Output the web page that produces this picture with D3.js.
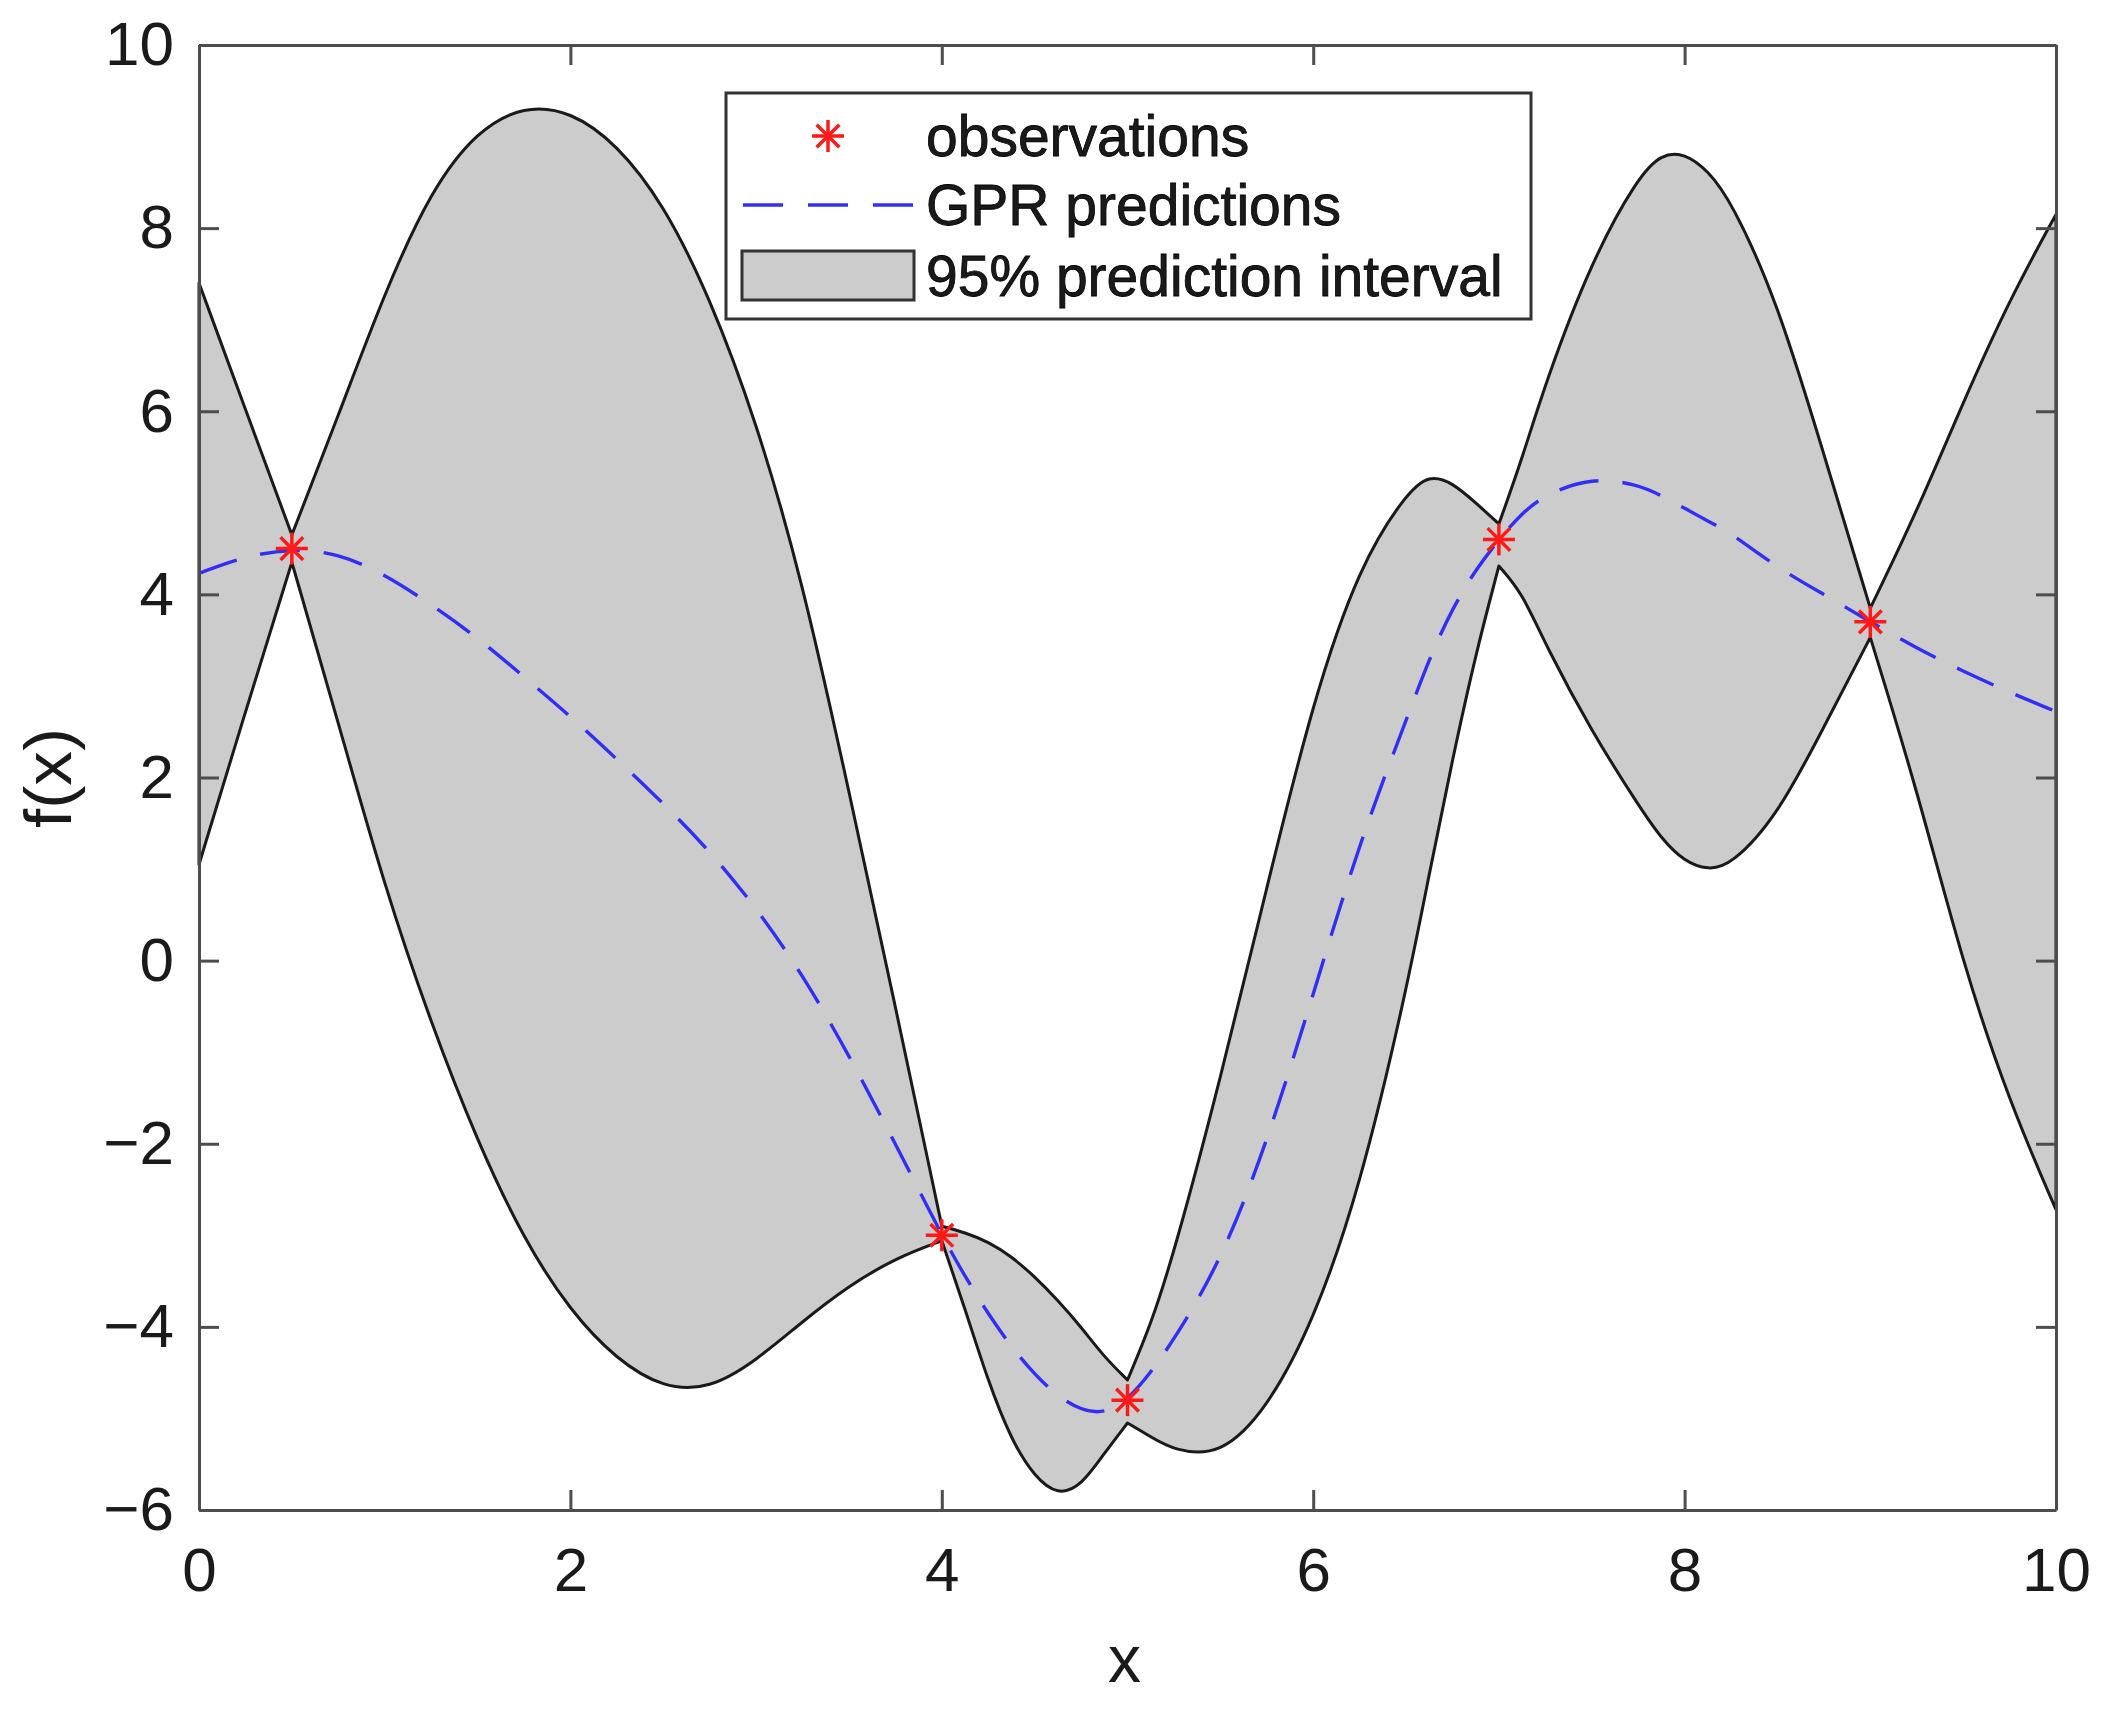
<!DOCTYPE html>
<html>
<head>
<meta charset="utf-8">
<script src="https://d3js.org/d3.v7.min.js"></script>
<style>
  body { margin: 0; background: #fff; }
  svg { display: block; }
  text { font-family: "Liberation Sans", Arial, sans-serif; fill: #1a1a1a; }
</style>
</head>
<body>
<svg id="chart"></svg>
<script>
// observations
var obsX = [0.5, 4, 5, 7, 9];
var obsY = [4.5, -3.0, -4.8, 4.6, 3.7];

// grid where the GPR curves were read
var gridX = [0, 0.25, 0.5, 0.75, 1.0, 1.25, 1.5, 1.75, 2.0, 2.25, 2.5, 2.75, 3.0, 3.25, 3.5, 3.75,
  4.0, 4.125, 4.25, 4.375, 4.5, 4.625, 4.75, 4.875, 5.0, 5.125, 5.25, 5.5, 5.75, 6.0, 6.25, 6.5,
  6.625, 6.75, 6.875, 7.0, 7.125, 7.25, 7.5, 7.75, 7.875, 8.0, 8.125, 8.25, 8.5, 8.75, 9.0, 9.25, 9.5, 9.75, 10.0];

var upperY = [7.40, 6.02, 4.65, 5.95, 7.30, 8.42, 9.07, 9.34, 9.28, 8.92, 8.27, 7.25, 5.90, 4.15, 1.85, -0.50,
  -2.90, -2.97, -3.07, -3.23, -3.45, -3.71, -4.00, -4.33, -4.58, -3.98, -3.20, -1.30, 0.80, 2.85, 4.32, 5.10,
  5.31, 5.22, 5.00, 4.77, 5.48, 6.31, 7.65, 8.56, 8.81, 8.82, 8.63, 8.30, 7.20, 5.53, 3.85, 4.90, 6.10, 7.22, 8.15];

var lowerY = [1.05, 2.72, 4.35, 2.60, 0.80, -0.69, -1.98, -3.05, -3.83, -4.36, -4.67, -4.68, -4.37, -3.94, -3.55, -3.25,
  -3.06, -3.80, -4.60, -5.24, -5.64, -5.84, -5.74, -5.38, -5.05, -5.20, -5.35, -5.41, -4.90, -3.95, -2.50, -0.35,
  0.95, 2.20, 3.35, 4.31, 4.02, 3.45, 2.50, 1.70, 1.33, 1.08, 0.99, 1.04, 1.58, 2.55, 3.53, 1.88, -0.05, -1.55, -2.72];

var meanY = [4.23, 4.42, 4.50, 4.45, 4.22, 3.89, 3.53, 3.10, 2.67, 2.20, 1.72, 1.20, 0.58, -0.15, -1.03, -2.00,
  -3.00, -3.45, -3.86, -4.22, -4.52, -4.76, -4.91, -4.95, -4.80, -4.50, -4.14, -3.30, -2.00, -0.37, 1.30, 2.62,
  3.30, 3.85, 4.27, 4.60, 4.89, 5.09, 5.28, 5.20, 5.08, 4.94, 4.80, 4.67, 4.29, 4.00, 3.70, 3.41, 3.16, 2.93, 2.72];

var xTicks = [0, 2, 4, 6, 8, 10];
var yTicks = [-6, -4, -2, 0, 2, 4, 6, 8, 10];
var legendLabels = ["observations", "GPR predictions", "95% prediction interval"];

var W = 2106, H = 1709;
var margin = { left: 199, top: 45, right: 50, bottom: 199 };
var width = W - margin.left - margin.right;
var height = H - margin.top - margin.bottom;

var svg = d3.select("#chart").attr("width", W).attr("height", H);
var g = svg.append("g").attr("transform", "translate(" + margin.left + "," + margin.top + ")");

var x = d3.scaleLinear().domain([0, 10]).range([0, width]);
var y = d3.scaleLinear().domain([-6, 10]).range([height, 0]);

var curveLine = d3.line()
  .x(function (d) { return x(d[0]); })
  .y(function (d) { return y(d[1]); })
  .curve(d3.curveBasis);

// split the band at the observations so the cusps stay sharp
var breaks = [0].concat(obsX).concat([10]);
function pieces(values) {
  var out = [];
  for (var i = 0; i < breaks.length - 1; i++) {
    var a = breaks[i], b = breaks[i + 1];
    var pts = [];
    gridX.forEach(function (gx, j) {
      if (gx >= a && gx <= b) pts.push([gx, values[j]]);
    });
    out.push(pts);
  }
  return out;
}

var bandPath = "";
pieces(upperY).forEach(function (pts) {
  var s = curveLine(pts);
  bandPath += bandPath ? s.replace(/^M/, "L") : s;
});
pieces(lowerY).reverse().forEach(function (pts) {
  bandPath += curveLine(pts.slice().reverse()).replace(/^M/, "L");
});
bandPath += "Z";

g.append("path")
  .attr("d", bandPath)
  .attr("fill", "#cccccc")
  .attr("stroke", "#1a1a1a")
  .attr("stroke-width", 3)
  .attr("stroke-linejoin", "round");

// mean prediction
g.append("path")
  .datum(gridX.map(function (gx, i) { return [gx, meanY[i]]; }))
  .attr("d", curveLine)
  .attr("fill", "none")
  .attr("stroke", "#3030f5")
  .attr("stroke-width", 3.4)
  .attr("stroke-dasharray", "40,24");

// asterisk marker
function star(sel, r) {
  [0, 45, 90, 135].forEach(function (a) {
    var rad = a * Math.PI / 180;
    sel.append("line")
      .attr("x1", -r * Math.cos(rad)).attr("y1", -r * Math.sin(rad))
      .attr("x2", r * Math.cos(rad)).attr("y2", r * Math.sin(rad))
      .attr("stroke", "#ff1a1a")
      .attr("stroke-width", 3.5);
  });
}

g.selectAll(".obs")
  .data(obsX.map(function (ox, i) { return [ox, obsY[i]]; }))
  .enter()
  .append("g")
  .attr("class", "obs")
  .attr("transform", function (d) { return "translate(" + x(d[0]) + "," + y(d[1]) + ")"; })
  .each(function () { star(d3.select(this), 16); });

// axes box with inward ticks on all four sides
var axisColor = "#4d4d4d";
function styleAxis(sel) {
  sel.select(".domain").attr("stroke", axisColor).attr("stroke-width", 3);
  sel.selectAll(".tick line").attr("stroke", axisColor).attr("stroke-width", 3);
  sel.selectAll("text").attr("font-size", 62).attr("fill", "#1a1a1a")
    .attr("font-family", "Liberation Sans, Arial, sans-serif");
}

g.append("g")
  .attr("transform", "translate(0," + height + ")")
  .call(d3.axisBottom(x).tickValues(xTicks).tickSizeInner(-20).tickSizeOuter(0).tickPadding(37))
  .call(styleAxis);

g.append("g")
  .call(d3.axisTop(x).tickValues(xTicks).tickSizeInner(-20).tickSizeOuter(0).tickFormat(""))
  .call(styleAxis);

g.append("g")
  .call(d3.axisLeft(y).tickValues(yTicks).tickSizeInner(-20).tickSizeOuter(0).tickPadding(25))
  .call(styleAxis);

g.append("g")
  .attr("transform", "translate(" + width + ",0)")
  .call(d3.axisRight(y).tickValues(yTicks).tickSizeInner(-20).tickSizeOuter(0).tickFormat(""))
  .call(styleAxis);

// axis labels
svg.append("text")
  .attr("x", margin.left + x(5) - 3)
  .attr("y", 1682)
  .attr("text-anchor", "middle")
  .attr("font-size", 66)
  .text("x");

svg.append("text")
  .attr("transform", "translate(71,778) rotate(-90)")
  .attr("text-anchor", "middle")
  .attr("font-size", 66)
  .attr("textLength", 100)
  .attr("lengthAdjust", "spacingAndGlyphs")
  .text("f(x)");

// legend
var legend = svg.append("g").attr("transform", "translate(726,93)");
legend.append("rect")
  .attr("width", 805).attr("height", 226)
  .attr("fill", "#fff")
  .attr("stroke", "#333").attr("stroke-width", 3);

var rowY = [43, 112, 183];
legend.selectAll(".lab")
  .data(legendLabels)
  .enter()
  .append("text")
  .attr("class", "lab")
  .attr("x", 200)
  .attr("y", function (d, i) { return rowY[i] + 20; })
  .attr("font-size", 57)
  .attr("fill", "#000")
  .attr("stroke", "#000")
  .attr("stroke-width", 0.8)
  .text(function (d) { return d; });

star(legend.append("g").attr("transform", "translate(102," + rowY[0] + ")"), 16);

legend.append("line")
  .attr("x1", 17).attr("x2", 187)
  .attr("y1", rowY[1]).attr("y2", rowY[1])
  .attr("stroke", "#3030f5")
  .attr("stroke-width", 3.4)
  .attr("stroke-dasharray", "40,25");

legend.append("rect")
  .attr("x", 16).attr("y", rowY[2] - 25)
  .attr("width", 172).attr("height", 49)
  .attr("fill", "#cccccc")
  .attr("stroke", "#333").attr("stroke-width", 3);
</script>
</body>
</html>
